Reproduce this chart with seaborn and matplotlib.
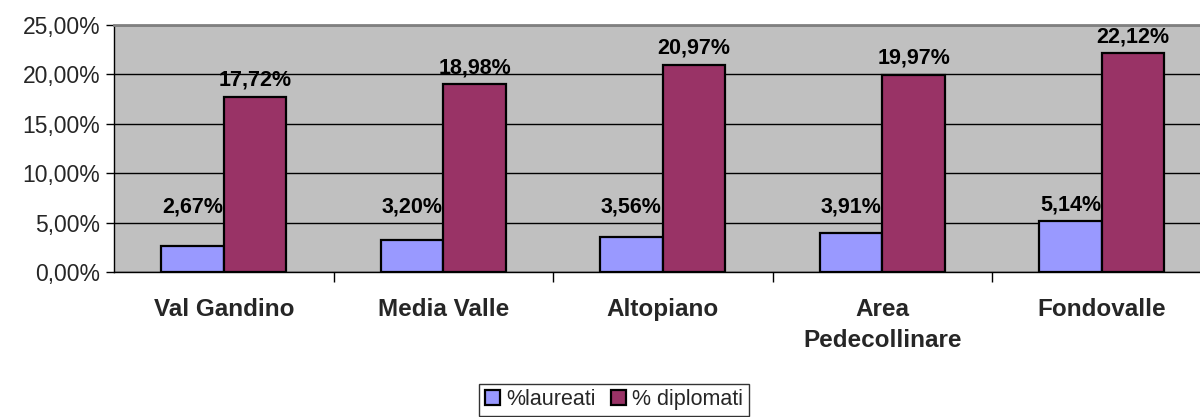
import matplotlib
matplotlib.use("Agg")
import matplotlib.pyplot as plt
import seaborn as sns
import pandas as pd
import numpy as np
from matplotlib.ticker import FuncFormatter, FixedLocator
from matplotlib.patches import Patch

categories = ["Val Gandino", "Media Valle", "Altopiano", "Area\nPedecollinare", "Fondovalle"]
laureati = [2.67, 3.20, 3.56, 3.91, 5.14]
diplomati = [17.72, 18.98, 20.97, 19.97, 22.12]
series = ["%laureati", "% diplomati"]
colors = ["#9999FF", "#993366"]
yticks = [0, 5, 10, 15, 20, 25]

df = pd.DataFrame({
    "cat": categories * 2,
    "val": laureati + diplomati,
    "serie": [series[0]] * len(categories) + [series[1]] * len(categories),
})

sns.set_theme(style="white")
plt.rcParams["font.family"] = ["Liberation Sans", "DejaVu Sans"]

fig = plt.figure(figsize=(12, 4.17), dpi=100)
ax = fig.add_axes([114 / 1200, 1 - 272 / 417, 5 * 219.5 / 1200, 247 / 417])
ax.set_facecolor("#C0C0C0")

sns.barplot(data=df, x="cat", y="val", hue="serie", palette=colors, ax=ax,
            width=0.571, gap=0, edgecolor="black", linewidth=1.6, saturation=1,
            errorbar=None, zorder=3)

ax.set_ylim(0, 25)
ax.set_xlim(-0.5, len(categories) - 0.5)
ax.set_yticks(yticks)
ax.yaxis.set_major_formatter(FuncFormatter(lambda v, p: f"{v:.2f}".replace(".", ",") + "%"))
ax.grid(axis="y", color="black", linewidth=1.0, zorder=0)
ax.set_axisbelow(True)
ax.set_xlabel("")
ax.set_ylabel("")

ax.tick_params(axis="y", which="major", left=True, length=6, width=1, color="black",
               labelsize=16.5, pad=4)
ax.tick_params(axis="x", which="major", bottom=False, length=0, pad=19)
for lbl in ax.get_xticklabels():
    lbl.set_fontsize(17.5)
    lbl.set_fontweight("bold")
    lbl.set_linespacing(1.45)
    lbl.set_verticalalignment("top")
ax.xaxis.set_minor_locator(FixedLocator(np.arange(0.5, len(categories) - 0.5, 1)))
ax.tick_params(axis="x", which="minor", bottom=True, length=7, width=1, color="black")

for s in ["left", "bottom"]:
    ax.spines[s].set_color("black")
    ax.spines[s].set_linewidth(1.0)
for s in ["top", "right"]:
    ax.spines[s].set_color("#808080")
    ax.spines[s].set_linewidth(2.0)

# data labels
for i, c in enumerate(ax.containers):
    vals = laureati if i == 0 else diplomati
    for bar, v in zip(c, vals):
        x = bar.get_x() + bar.get_width() / 2
        if i == 0:
            y = max(v, 5.0) + 1.6
        else:
            y = v + 1.7
        ax.text(x, y, f"{v:.2f}".replace(".", ",") + "%", ha="center", va="center",
                fontsize=15.5, fontweight="bold", color="black", zorder=5)

ax.get_legend().remove()
handles = [Patch(facecolor=colors[0], edgecolor="black", linewidth=1.6),
           Patch(facecolor=colors[1], edgecolor="black", linewidth=1.6)]
fig.legend(handles, series, loc="upper center", bbox_to_anchor=(614 / 1200, 1 - 384 / 417),
           ncol=2, frameon=True, fancybox=False, edgecolor="black", fontsize=15.5,
           handlelength=0.7, handleheight=0.7, handletextpad=0.3, columnspacing=0.7,
           borderpad=0.25, borderaxespad=0)
fig.legends[0].get_frame().set_linewidth(1.0)

fig.savefig("out.png", dpi=100, facecolor="white")
